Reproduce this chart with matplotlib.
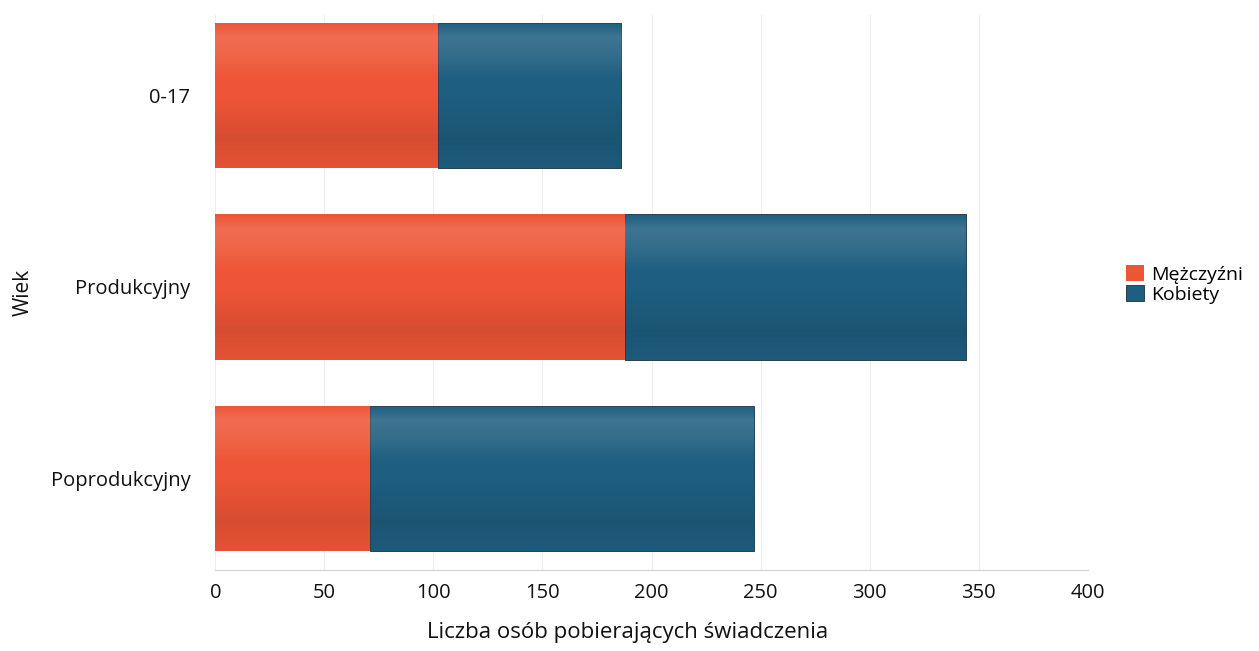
import numpy as np
import matplotlib.pyplot as plt

plt.rcParams['font.family'] = ['Open Sans', 'DejaVu Sans']

categories = ['0-17', 'Produkcyjny', 'Poprodukcyjny']
mezczyzni = [102, 188, 71]
kobiety = [84, 156, 176]
series_names = ['Mężczyźni', 'Kobiety']
x_ticks = [0, 50, 100, 150, 200, 250, 300, 350, 400]

orange = '#EE5536'
blue = '#1E5E80'

fig = plt.figure(figsize=(12.59, 6.51), dpi=100)
ax = fig.add_axes([0.171, 0.124, 0.693, 0.853])

y = np.arange(len(categories))
h = 0.76
b1 = ax.barh(y, mezczyzni, height=h, color=orange, label=series_names[0])
b2 = ax.barh(y, kobiety, left=mezczyzni, height=h, color=blue, label=series_names[1],
             edgecolor='#1a2f40', linewidth=0.6)


# delikatny gradient na słupkach (jasny pas u góry, ciemniej na dole)
def shade(bars):
    t = np.linspace(0, 1, 256)
    light = np.interp(t, [0, 0.1, 0.22, 0.4, 1], [0.0, 0.14, 0.10, 0.0, 0.0])
    dark = np.interp(t, [0, 0.5, 0.8, 1], [0.0, 0.0, 0.10, 0.04])
    img = np.zeros((256, 1, 4))
    img[:, 0, :3] = np.where(light[:, None] > 0, 1.0, 0.0)
    img[:, 0, 3] = np.maximum(light, dark)
    for bar in bars:
        x0, y0 = bar.get_x(), bar.get_y()
        w, hh = bar.get_width(), bar.get_height()
        im = ax.imshow(img, extent=(x0, x0 + w, y0 + hh, y0), aspect='auto',
                       zorder=bar.get_zorder() + 0.1, interpolation='bilinear')
        im.set_clip_path(bar)


shade(b1)
shade(b2)

ax.set_xlim(0, 400)
ax.set_ylim(2.48, -0.42)
ax.set_xticks(x_ticks)
ax.set_yticks(y)
ax.set_yticklabels(categories)
ax.tick_params(axis='both', length=0, labelsize=14.5, colors='#111111')
ax.tick_params(axis='y', pad=18)
ax.tick_params(axis='x', pad=9)

ax.grid(axis='x', color='#eeeeee', linewidth=0.8)
ax.set_axisbelow(True)
for s in ['top', 'right', 'left']:
    ax.spines[s].set_visible(False)
ax.spines['bottom'].set_color('#d0d0d0')
ax.spines['bottom'].set_linewidth(0.8)

ax.set_xlabel('Liczba osób pobierających świadczenia', fontsize=16, color='#111111')
ax.xaxis.set_label_coords(0.473, -0.094)
ax.set_ylabel('Wiek', fontsize=15, labelpad=12, color='#111111')

ax.legend(loc='center left', bbox_to_anchor=(1.024, 0.515), frameon=False,
          fontsize=14, handlelength=0.9, handleheight=0.9, handletextpad=0.4,
          labelspacing=0.05)

fig.savefig('out.png', dpi=100)
